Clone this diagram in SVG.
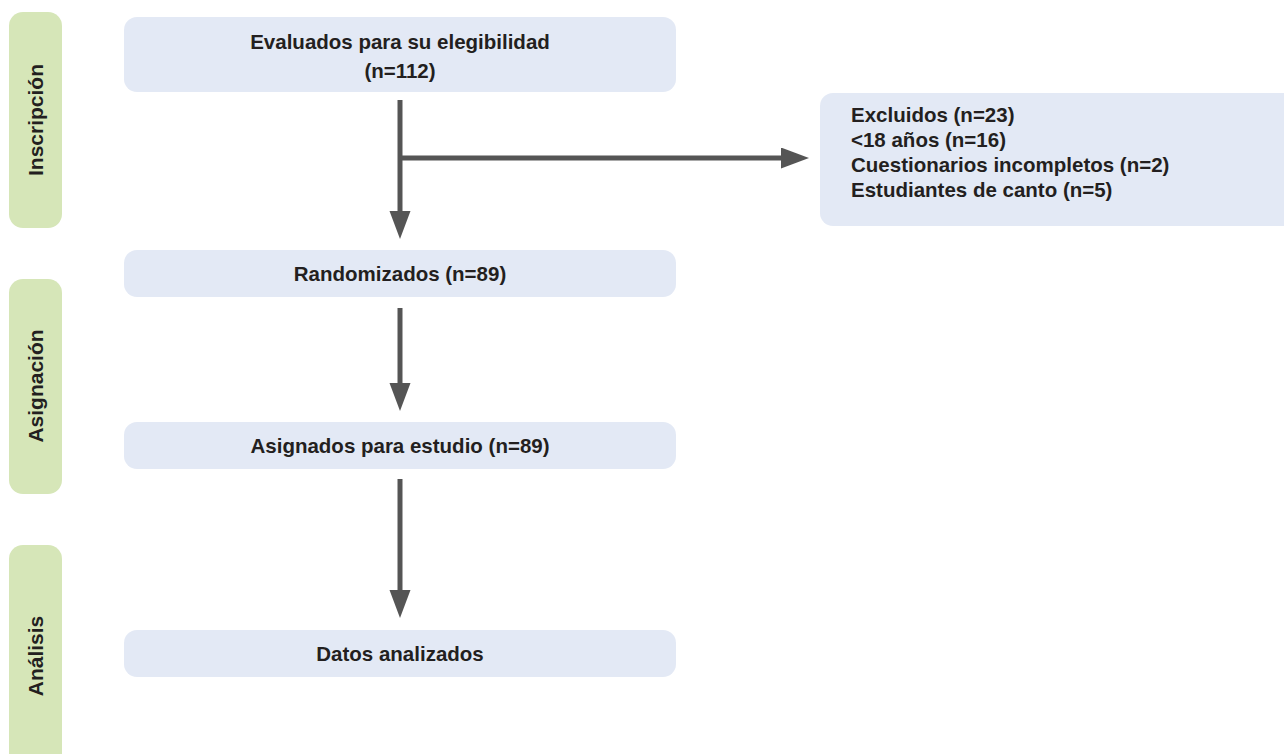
<svg xmlns="http://www.w3.org/2000/svg" width="1284" height="754" viewBox="0 0 1284 754">
<style>
.phase{fill:#d6e6b8}
.box{fill:#e3e9f5}
.ptxt{font-family:"Liberation Sans",Arial,sans-serif;font-weight:bold;font-size:21px;fill:#231f20;text-anchor:middle}
.ntxt{font-family:"Liberation Sans",Arial,sans-serif;font-weight:bold;font-size:20.5px;fill:#231f20;text-anchor:middle}
.etxt{font-family:"Liberation Sans",Arial,sans-serif;font-weight:bold;font-size:20.5px;fill:#231f20}
.conn{stroke:#555555;stroke-width:5;fill:none}
</style>
<defs>
<marker id="ah" markerUnits="userSpaceOnUse" markerWidth="28" markerHeight="22" refX="0" refY="10.5" orient="auto">
<path d="M0,0 L28,10.5 L0,21 Z" fill="#555555"/>
</marker>
</defs>
<rect width="1284" height="754" fill="#ffffff"/>
<g id="phase-inscripcion">
<rect class="phase" x="9" y="12" width="53" height="216" rx="14"/>
<text class="ptxt" transform="translate(43,120) rotate(-90)">Inscripción</text>
</g>
<g id="phase-asignacion">
<rect class="phase" x="9" y="279" width="53" height="215" rx="14"/>
<text class="ptxt" transform="translate(43,386) rotate(-90)">Asignación</text>
</g>
<g id="phase-analisis">
<rect class="phase" x="9" y="545" width="53" height="240" rx="14"/>
<text class="ptxt" transform="translate(43,656) rotate(-90)">Análisis</text>
</g>
<g id="node-evaluados">
<rect class="box" x="124" y="17" width="552" height="75" rx="13"/>
<text class="ntxt" x="400" y="49">Evaluados para su elegibilidad</text>
<text class="ntxt" x="400" y="78">(n=112)</text>
</g>
<g id="node-excluidos">
<rect class="box" x="820" y="93" width="480" height="133" rx="13"/>
<text class="etxt" x="851" y="122">Excluidos (n=23)</text>
<text class="etxt" x="851" y="147">&lt;18 años (n=16)</text>
<text class="etxt" x="851" y="172">Cuestionarios incompletos (n=2)</text>
<text class="etxt" x="851" y="197">Estudiantes de canto (n=5)</text>
</g>
<g id="node-randomizados">
<rect class="box" x="124" y="250" width="552" height="47" rx="13"/>
<text class="ntxt" x="400" y="281">Randomizados (n=89)</text>
</g>
<g id="node-asignados">
<rect class="box" x="124" y="422" width="552" height="47" rx="13"/>
<text class="ntxt" x="400" y="453">Asignados para estudio (n=89)</text>
</g>
<g id="node-datos">
<rect class="box" x="124" y="630" width="552" height="47" rx="13"/>
<text class="ntxt" x="400" y="661">Datos analizados</text>
</g>
<g id="connectors">
<path class="conn" d="M400,100 V211" marker-end="url(#ah)"/>
<path class="conn" d="M400,158 H781" marker-end="url(#ah)"/>
<path class="conn" d="M400,308 V383" marker-end="url(#ah)"/>
<path class="conn" d="M400,479 V590" marker-end="url(#ah)"/>
</g>
</svg>
